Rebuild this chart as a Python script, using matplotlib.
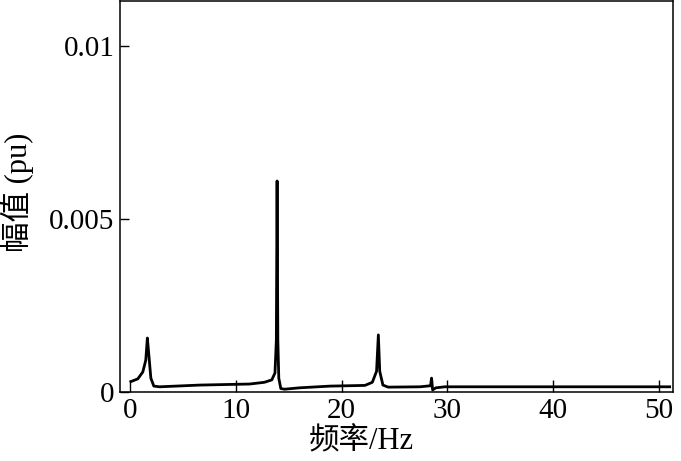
import matplotlib.pyplot as plt
import numpy as np

# 频谱曲线
freq = [0.08, 0.74, 1.21, 1.49, 1.64, 1.78, 1.97, 2.25, 2.8, 6.6, 11.3, 12.7,
        13.4, 13.7, 13.83, 13.9, 13.97, 14.06, 14.25, 14.6, 16.0, 18.9, 22.2,
        22.9, 23.3, 23.47, 23.6, 23.9, 24.4, 27.4, 28.4, 28.5, 28.6, 28.9,
        29.75, 51.0]
amp = [0.0003, 0.00038, 0.00058, 0.00092, 0.00156, 0.00107, 0.0004, 0.00017,
       0.00015, 0.0002, 0.00023, 0.00028, 0.00035, 0.00055, 0.0015, 0.0061,
       0.0015, 0.0004, 0.0001, 0.00008, 0.00012, 0.00017, 0.00019, 0.00028,
       0.0006, 0.00165, 0.0006, 0.0002, 0.00014, 0.00015, 0.00018, 0.0004,
       0.00006, 0.00012, 0.00015, 0.00015]

x_ticks = [0, 10, 20, 30, 40, 50]
y_ticks = [0, 0.005, 0.01]
y_tick_labels = ['0', '0.005', '0.01']

fonts = ['Liberation Serif', 'Noto Sans CJK SC']
plt.rcParams['font.family'] = fonts

fig = plt.figure(figsize=(6.81, 4.61), dpi=100)
ax = fig.add_axes([0.176, 0.1497, 0.812, 0.848])

ax.plot(freq, amp, color='black', linewidth=2.0)

ax.set_xlim(-0.96, 51.3)
ax.set_ylim(0, 0.0113)
ax.set_xticks(x_ticks)
ax.set_xticklabels([str(t) for t in x_ticks], fontsize=21)
ax.set_yticks(y_ticks)
ax.set_yticklabels(y_tick_labels, fontsize=21)
ax.tick_params(axis='x', direction='in', length=9, width=1, pad=4)
ax.tick_params(axis='y', direction='in', length=6.5, width=1, pad=4)
for s in ax.spines.values():
    s.set_linewidth(1.1)

ax.set_xlabel('频率/Hz', fontsize=22)
ax.xaxis.set_label_coords(0.4376, -0.09)
ax.set_ylabel('幅值 (pu)', fontsize=22)
ax.yaxis.set_label_coords(-0.155, 0.51)

fig.savefig('out.png', dpi=100)
